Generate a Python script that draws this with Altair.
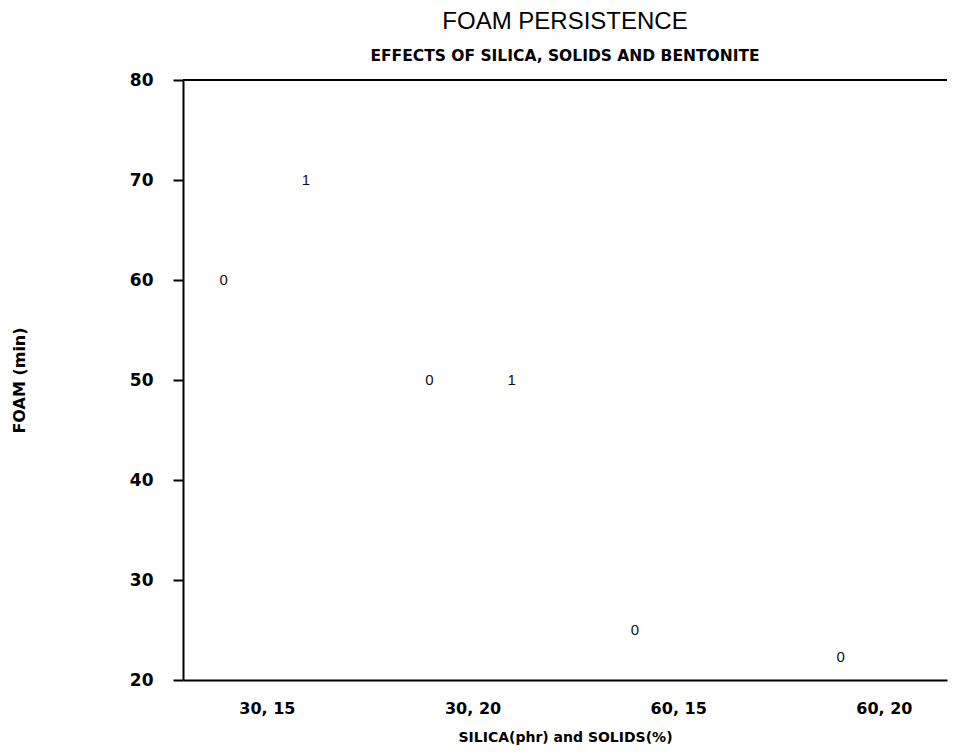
import altair as alt
import pandas as pd

# ---- data ----
categories = ["30, 15", "30, 20", "60, 15", "60, 20"]
point_category = [1, 1, 2, 2, 3, 4]
point_bentonite = [0, 1, 0, 1, 0, 0]
point_foam = [60, 70, 50, 50, 25, 22.3]
y_ticks = [20, 30, 40, 50, 60, 70, 80]

df = pd.DataFrame({"cat": point_category, "bentonite": point_bentonite, "foam": point_foam})
top_df = pd.DataFrame({"y": [80]})

label_expr = " : ".join(
    [f"datum.value == {i + 1} ? '{c}'" for i, c in enumerate(categories)]
) + " : ''"

x_scale = alt.Scale(domain=[0.592, 4.307], nice=False, zero=False)
y_scale = alt.Scale(domain=[20, 80], nice=False, zero=False)

x_axis = alt.Axis(
    values=[1, 2, 3, 4], labelExpr=label_expr, ticks=False, grid=False,
    domainColor="black", domainWidth=2,
    labelFont="DejaVu Sans", labelFontWeight="bold", labelFontSize=16, labelColor="black",
    labelPadding=20, labelOverlap=False, labelFlush=False,
    title="SILICA(phr) and SOLIDS(%)", titleFont="DejaVu Sans", titleFontWeight="bold",
    titleFontSize=14, titleColor="black", titleY=57, titleBaseline="middle",
)
y_axis = alt.Axis(
    values=y_ticks, grid=False, tickSize=10, tickColor="black", tickWidth=2,
    domainColor="black", domainWidth=2,
    labelFont="DejaVu Sans", labelFontWeight="bold", labelFontSize=17, labelColor="black",
    labelPadding=20, labelFlush=False, labelOverlap=False,
    title="FOAM (min)", titleFont="DejaVu Sans", titleFontWeight="bold", titleFontSize=16,
    titleColor="black", titleX=-164, titleY=300, titleAngle=270,
    titleBaseline="middle", titleAlign="center",
)

points = alt.Chart(df).transform_calculate(
    xpos="datum.cat + (datum.bentonite == 0 ? -0.21 : 0.19)",
    lbl="'' + datum.bentonite",
).mark_text(font="Liberation Sans", fontSize=15, color="#111", baseline="middle").encode(
    x=alt.X("xpos:Q", scale=x_scale, axis=x_axis),
    y=alt.Y("foam:Q", scale=y_scale, axis=y_axis),
    text="lbl:N",
)

top_rule = alt.Chart(top_df).mark_rule(color="black", strokeWidth=2).encode(
    y=alt.Y("y:Q", scale=y_scale)
)

chart = alt.layer(points, top_rule).properties(
    width=764,
    height=600,
    autosize=alt.AutoSizeParams(type="none"),
    padding={"left": 175, "top": 72, "right": 1, "bottom": 67},
    title=alt.TitleParams(
        text="FOAM PERSISTENCE",
        subtitle="EFFECTS OF SILICA, SOLIDS AND BENTONITE",
        font="Liberation Sans", fontSize=24, fontWeight="normal", color="black",
        subtitleFont="DejaVu Sans", subtitleFontWeight="bold", subtitleFontSize=15.5,
        subtitleColor="black", subtitlePadding=15, offset=7, anchor="middle",
    ),
).configure_view(stroke=None)

chart.save("out.html", embed_options={"renderer": "svg", "actions": False})
